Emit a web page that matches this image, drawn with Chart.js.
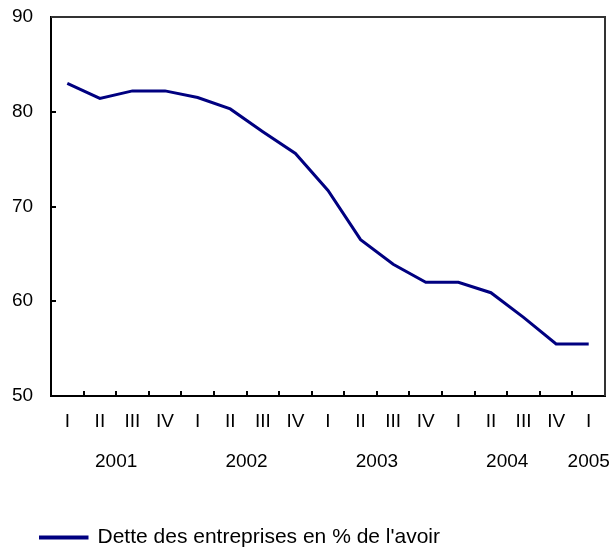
<!DOCTYPE html>
<html>
<head>
    <script src="https://cdn.jsdelivr.net/npm/chart.js"></script>
    <style>
        body {
            margin: 0;
            background-color: white;
        }
        #wrap {
            width: 613px;
            height: 553px;
        }
    </style>
</head>
<body>
    <div id="wrap"><canvas id="debtChart" width="613" height="553"></canvas></div>

    <script>
        // Quarters, 2001 I to 2005 I
        const quarters = ["I", "II", "III", "IV", "I", "II", "III", "IV", "I", "II", "III", "IV", "I", "II", "III", "IV", "I"];
        const debtRatio = [83.0, 81.4, 82.2, 82.2, 81.5, 80.3, 77.9, 75.6, 71.7, 66.5, 63.9, 62.0, 62.0, 60.9, 58.3, 55.5, 55.5];
        const years = ["2001", "2002", "2003", "2004", "2005"];
        const yearPos = [1.5, 5.5, 9.5, 13.5, 16];
        const yTicks = [50, 60, 70, 80, 90];

        const font = "'Liberation Sans', Arial, sans-serif";

        // Small tick marks pointing into the plot, plus top/right frame
        const innerTicks = {
            id: "innerTicks",
            afterDraw(chart) {
                const ctx = chart.ctx;
                const area = chart.chartArea;
                const xs = chart.scales.x;
                const ys = chart.scales.y;
                ctx.save();
                ctx.strokeStyle = "#000";
                ctx.lineWidth = 2;
                for (let i = 1; i < quarters.length; i++) {
                    let px = Math.round((xs.getPixelForValue(i - 1) + xs.getPixelForValue(i)) / 2);
                    ctx.beginPath();
                    ctx.moveTo(px, area.bottom);
                    ctx.lineTo(px, area.bottom - 5);
                    ctx.stroke();
                }
                yTicks.forEach(v => {
                    let py = Math.round(ys.getPixelForValue(v));
                    ctx.beginPath();
                    ctx.moveTo(area.left, py);
                    ctx.lineTo(area.left + 5, py);
                    ctx.stroke();
                });
                ctx.strokeStyle = "#333";
                ctx.beginPath();
                ctx.moveTo(area.left, area.top);
                ctx.lineTo(area.right, area.top);
                ctx.lineTo(area.right, area.bottom);
                ctx.stroke();
                ctx.restore();
            }
        };

        function noPad(scale) {
            scale.paddingLeft = 0;
            scale.paddingRight = 0;
            scale.paddingTop = 0;
            scale.paddingBottom = 0;
        }

        new Chart(document.getElementById("debtChart"), {
            type: "line",
            data: {
                labels: quarters,
                datasets: [{
                    label: "Dette des entreprises en % de l'avoir",
                    data: debtRatio,
                    borderColor: "#000080",
                    backgroundColor: "#000080",
                    borderWidth: 3,
                    pointRadius: 0,
                    tension: 0,
                    fill: false
                }]
            },
            options: {
                responsive: false,
                animation: false,
                layout: { padding: { left: 39, right: 8, top: 17, bottom: -5 } },
                plugins: {
                    tooltip: { enabled: false },
                    legend: {
                        position: "bottom",
                        align: "start",
                        labels: {
                            boxWidth: 47,
                            boxHeight: 1,
                            padding: 1,
                            color: "#000",
                            font: { family: font, size: 21 }
                        }
                    }
                },
                scales: {
                    x: {
                        type: "category",
                        position: "bottom",
                        offset: true,
                        grid: { display: false, drawTicks: false },
                        border: { display: true, color: "#000", width: 2 },
                        ticks: {
                            color: "#000",
                            padding: 14,
                            autoSkip: false,
                            maxRotation: 0,
                            font: { family: font, size: 19 }
                        },
                        afterFit(scale) { scale.height = 37; noPad(scale); }
                    },
                    years: {
                        type: "linear",
                        position: "bottom",
                        min: -0.5,
                        max: quarters.length - 0.5,
                        grid: { display: false, drawTicks: false },
                        border: { display: false },
                        afterBuildTicks(axis) {
                            axis.ticks = yearPos.map(v => ({ value: v }));
                        },
                        ticks: {
                            color: "#000",
                            padding: 17,
                            autoSkip: false,
                            maxRotation: 0,
                            font: { family: font, size: 19 },
                            callback: value => years[yearPos.indexOf(value)]
                        },
                        afterFit(scale) { scale.height = 93; noPad(scale); }
                    },
                    y: {
                        min: 50,
                        max: 90,
                        afterBuildTicks(axis) {
                            axis.ticks = yTicks.map(v => ({ value: v }));
                        },
                        grid: { display: false, drawTicks: false },
                        border: { display: true, color: "#000", width: 2 },
                        ticks: {
                            color: "#000",
                            mirror: true,
                            padding: -39,
                            font: { family: font, size: 19 }
                        },
                        afterFit(scale) { scale.width = 12; noPad(scale); }
                    }
                }
            },
            plugins: [innerTicks]
        });
    </script>
</body>
</html>
